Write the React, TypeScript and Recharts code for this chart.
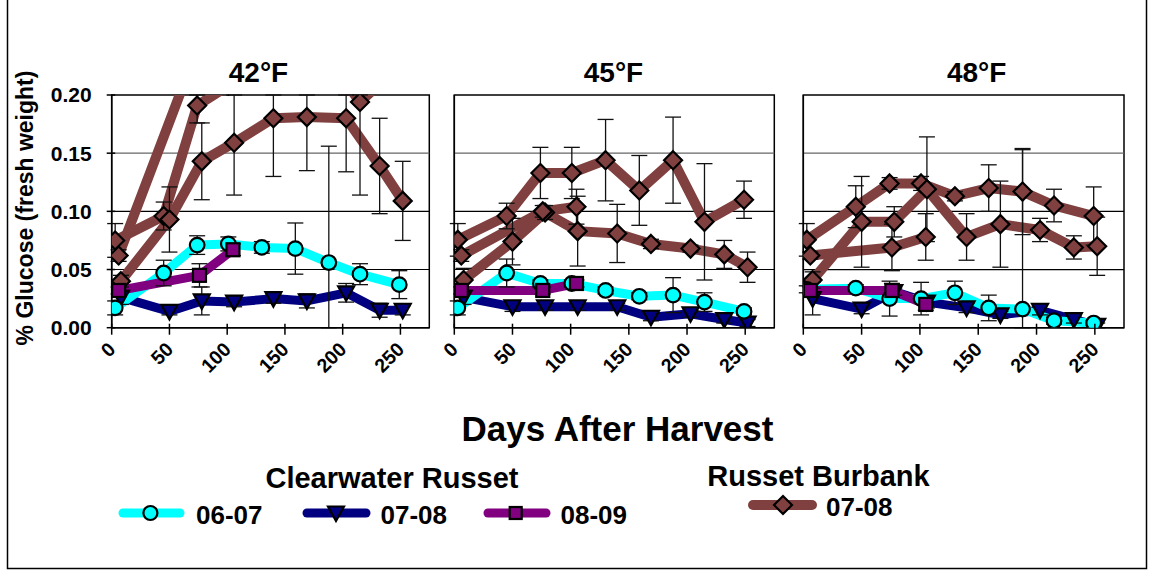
import {
  LineChart,
  Line,
  XAxis,
  YAxis,
  ErrorBar,
  ReferenceLine,
  ReferenceArea,
} from "recharts";

const FONT = "'Liberation Sans', Arial, Helvetica, sans-serif";

// sampling days for each storage season
const days0607 = [3, 45, 74, 101, 130, 159, 188, 215, 249];
const days0708 = [8, 50, 78, 106, 140, 169, 203, 232, 252];
const days0809 = [6, 76, 105];

const xTicks = [0, 50, 100, 150, 200, 250];
const yTicks = [0, 0.05, 0.1, 0.15, 0.2];

// 42°F
const cw0607_42 = [0.017, 0.047, 0.071, 0.072, 0.069, 0.068, 0.056, 0.046, 0.037];
const cw0607_42_err = [0.006, 0.011, 0.008, 0.006, 0.005, 0.022, 0.1, 0.009, 0.012];
const cw0708_42 = [0.026, 0.014, 0.023, 0.022, 0.025, 0.023, 0.03, 0.015, 0.015];
const cw0708_42_err = [0.006, 0.003, 0.012, 0.004, 0.004, 0.006, 0.008, 0.006, 0.004];
const cw0809_42 = [0.032, 0.045, 0.067];
const cw0809_42_err = [0.003, 0.01, 0.005];
const rbA_42 = [0.075, 0.096, 0.191, 0.208, 0.24, 0.25, 0.23, 0.194, 0.225];
const rbA_42_err = [0.0145, 0.012, 0.015, 0, 0, 0, 0, 0.08, 0.028];
const rbB_42 = [0.04, 0.093, 0.143, 0.159, 0.18, 0.181, 0.18, 0.139, 0.109];
const rbB_42_err = [0.005, 0.028, 0.033, 0.045, 0.05, 0.046, 0.046, 0.041, 0.034];
const rbC_42 = [0.062, 0.245, 0.27];
const rbC_42_err = [0.005, 0, 0];

// 45°F
const cw0607_45 = [0.017, 0.047, 0.038, 0.038, 0.032, 0.027, 0.028, 0.022, 0.014];
const cw0607_45_err = [0.006, 0.012, 0.003, 0.003, 0.003, 0.003, 0.015, 0.008, 0.003];
const cw0708_45 = [0.026, 0.018, 0.018, 0.018, 0.018, 0.009, 0.012, 0.007, 0.004];
const cw0708_45_err = [0.006, 0.004, 0.003, 0.003, 0.003, 0.003, 0.003, 0.003, 0.003];
const cw0809_45 = [0.032, 0.032, 0.038];
const cw0809_45_err = [0.003, 0.003, 0.003];
const rbA_45 = [0.0755, 0.096, 0.133, 0.133, 0.144, 0.118, 0.144, 0.091, 0.11];
const rbA_45_err = [0.014, 0.011, 0.022, 0.022, 0.035, 0.03, 0.037, 0.05, 0.016];
const rbB_45 = [0.041, 0.074, 0.099, 0.083, 0.081, 0.072, 0.068, 0.063, 0.052];
const rbB_45_err = [0.01, 0.02, 0.006, 0.03, 0.025, 0.004, 0.003, 0.012, 0.013];
const rbC_45 = [0.062, 0.1, 0.104];
const rbC_45_err = [0.005, 0.005, 0.015];

// 48°F
const cw0607_48 = [0.033, 0.034, 0.025, 0.025, 0.03, 0.017, 0.016, 0.006, 0.004];
const cw0607_48_err = [0.003, 0.003, 0.015, 0.014, 0.01, 0.011, 0.137, 0.003, 0.002];
const cw0708_48 = [0.025, 0.016, 0.031, 0.022, 0.017, 0.011, 0.015, 0.007, 0.002];
const cw0708_48_err = [0.014, 0.004, 0.003, 0.005, 0.004, 0.003, 0.004, 0.003, 0.002];
const cw0809_48 = [0.032, 0.032, 0.02];
const cw0809_48_err = [0.003, 0.006, 0.005];
const rbA_48 = [0.0755, 0.104, 0.124, 0.124, 0.113, 0.12, 0.117, 0.105, 0.096];
const rbA_48_err = [0.014, 0.018, 0.005, 0.006, 0.004, 0.02, 0.037, 0.014, 0.025];
const rbB_48 = [0.041, 0.091, 0.091, 0.119, 0.078, 0.089, 0.084, 0.069, 0.07];
const rbB_48_err = [0.007, 0.039, 0.013, 0.045, 0.02, 0.037, 0.01, 0.01, 0.025];
const rbC_48 = [0.062, 0.069, 0.078];
const rbC_48_err = [0.003, 0.02, 0.02];

const CYAN = "#00FFFF";
const NAVY = "#000080";
const PURPLE = "#800080";
const BROWN = "#804040";

// error bars are cut at the plot frame like the original
const mk = (days: number[], vals: number[], errs: number[]) =>
  days.map((d, i) => {
    const v = vals[i];
    const e = errs[i];
    let err: any = 0;
    if (e > 0 && v <= 0.2) err = [Math.min(e, v), Math.min(e, 0.2 - v)];
    return { day: d, v, e: err };
  });

const CircleDot = (p: any) =>
  p.cx == null || p.cy == null ? null : (
    <circle key={p.key} cx={p.cx} cy={p.cy} r={7.3} fill={CYAN} stroke="#000" strokeWidth={2.2} />
  );

const TriDot = (p: any) =>
  p.cx == null || p.cy == null ? null : (
    <polygon
      key={p.key}
      points={`${p.cx - 8},${p.cy - 6.5} ${p.cx + 8},${p.cy - 6.5} ${p.cx},${p.cy + 8}`}
      fill={NAVY}
      stroke="#000"
      strokeWidth={2.2}
    />
  );

const SquareDot = (p: any) =>
  p.cx == null || p.cy == null ? null : (
    <rect key={p.key} x={p.cx - 6.5} y={p.cy - 6.5} width={13} height={13} fill={PURPLE} stroke="#000" strokeWidth={2.2} />
  );

const DiamondDot = (p: any) =>
  p.cx == null || p.cy == null ? null : (
    <polygon
      key={p.key}
      points={`${p.cx},${p.cy - 9} ${p.cx + 9},${p.cy} ${p.cx},${p.cy + 9} ${p.cx - 9},${p.cy}`}
      fill={BROWN}
      stroke="#000"
      strokeWidth={2.2}
    />
  );

const XTick = (props: any) => {
  const { x, y, payload } = props;
  const tx = x + 5;
  const ty = y + 23;
  return (
    <g>
      <line x1={x} x2={x} y1={y - 4} y2={y + 7} stroke="#000" strokeWidth={1.5} />
      <text
        x={tx}
        y={ty}
        transform={`rotate(-45 ${tx} ${ty})`}
        textAnchor="end"
        fontFamily={FONT}
        fontWeight="bold"
        fontSize={19.5}
        fill="#000"
      >
        {payload.value}
      </text>
    </g>
  );
};

const YTick = (props: any) => {
  const { x, y, payload } = props;
  return (
    <g>
      <line x1={x - 5} x2={x + 3.5} y1={y} y2={y} stroke="#000" strokeWidth={1.5} />
      <text
        x={x - 20}
        y={y + 7.5}
        textAnchor="end"
        fontFamily={FONT}
        fontWeight="bold"
        fontSize={21}
        fill="#000"
      >
        {payload.value.toFixed(2)}
      </text>
    </g>
  );
};

type Series = { data: any[]; color: string; width: number; dot: any };

function Panel({
  left,
  yw,
  width,
  showY,
  series,
}: {
  left: number;
  yw: number;
  width: number;
  showY: boolean;
  series: Series[];
}) {
  return (
    <div style={{ position: "absolute", left, top: 60 }}>
      <LineChart
        width={width}
        height={330}
        margin={{ top: 35, right: 10, bottom: 22.3, left: 0 }}
      >
        <XAxis
          type="number"
          dataKey="day"
          domain={[0, 275]}
          ticks={xTicks}
          allowDataOverflow
          height={40}
          tickSize={0}
          tickMargin={0}
          tickLine={false}
          axisLine={{ stroke: "#000", strokeWidth: 1.5 }}
          tick={<XTick />}
          interval={0}
        />
        <YAxis
          type="number"
          domain={[0, 0.2]}
          ticks={yTicks}
          allowDataOverflow
          width={yw}
          tickSize={0}
          tickMargin={0}
          tickLine={false}
          axisLine={{ stroke: "#000", strokeWidth: 1.5 }}
          tick={showY ? <YTick /> : false}
          interval={0}
        />
        <ReferenceLine y={0.05} stroke="#000" strokeWidth={1.2} />
        <ReferenceLine y={0.1} stroke="#000" strokeWidth={1.2} />
        <ReferenceLine y={0.15} stroke="#666" strokeWidth={1.2} />
        <ReferenceArea
          x1={0}
          x2={275}
          y1={0}
          y2={0.2}
          fill="none"
          stroke="#000"
          strokeWidth={1.5}
        />
        {series.map((s, i) => (
          <Line
            key={"l" + i}
            data={s.data}
            dataKey="v"
            type="linear"
            stroke={s.color}
            strokeWidth={s.width}
            strokeLinejoin="round"
            strokeLinecap="round"
            dot={false}
            activeDot={false}
            isAnimationActive={false}
          />
        ))}
        {series.map((s, i) => (
          <Line
            key={"m" + i}
            data={s.data}
            dataKey="v"
            type="linear"
            stroke="none"
            dot={s.dot}
            activeDot={false}
            isAnimationActive={false}
          >
            <ErrorBar dataKey="e" direction="y" width={8} strokeWidth={1.3} stroke="#111" />
          </Line>
        ))}
      </LineChart>
    </div>
  );
}

const panelSeries = (
  a: number[], ae: number[],
  b: number[], be: number[],
  c: number[], ce: number[],
  cy: number[], cye: number[],
  nv: number[], nve: number[],
  pp: number[], ppe: number[],
): Series[] => [
  { data: mk(days0607, a, ae), color: BROWN, width: 10, dot: DiamondDot },
  { data: mk(days0708, b, be), color: BROWN, width: 10, dot: DiamondDot },
  { data: mk(days0809, c, ce), color: BROWN, width: 10, dot: DiamondDot },
  { data: mk(days0708, nv, nve), color: NAVY, width: 9, dot: TriDot },
  { data: mk(days0607, cy, cye), color: CYAN, width: 9, dot: CircleDot },
  { data: mk(days0809, pp, ppe), color: PURPLE, width: 9, dot: SquareDot },
];

const series42 = panelSeries(rbA_42, rbA_42_err, rbB_42, rbB_42_err, rbC_42, rbC_42_err, cw0607_42, cw0607_42_err, cw0708_42, cw0708_42_err, cw0809_42, cw0809_42_err);
const series45 = panelSeries(rbA_45, rbA_45_err, rbB_45, rbB_45_err, rbC_45, rbC_45_err, cw0607_45, cw0607_45_err, cw0708_45, cw0708_45_err, cw0809_45, cw0809_45_err);
const series48 = panelSeries(rbA_48, rbA_48_err, rbB_48, rbB_48_err, rbC_48, rbC_48_err, cw0607_48, cw0607_48_err, cw0708_48, cw0708_48_err, cw0809_48, cw0809_48_err);

const bold = { fontFamily: FONT, fontWeight: "bold" as const, fill: "#000" };

export default function App() {
  return (
    <div
      style={{
        position: "fixed",
        left: 0,
        top: 0,
        width: 1152,
        height: 571,
        background: "#fff",
        overflow: "hidden",
      }}
    >
      <Panel left={0} yw={111.7} width={439.3} showY series={series42} />
      <Panel left={430} yw={24.3} width={354.3} showY={false} series={series45} />
      <Panel left={780} yw={23.3} width={354} showY={false} series={series48} />

      <svg
        width={1152}
        height={571}
        style={{ position: "absolute", left: 0, top: 0, pointerEvents: "none" }}
      >
        <rect x={7.5} y={-5} width={1139} height={573.5} fill="none" stroke="#000" strokeWidth={1.5} />

        <text x={258.5} y={82} textAnchor="middle" fontSize={28} {...bold}>42°F</text>
        <text x={613.5} y={82} textAnchor="middle" fontSize={28} {...bold}>45°F</text>
        <text x={976.7} y={82} textAnchor="middle" fontSize={28} {...bold}>48°F</text>

        <text
          x={33}
          y={208}
          transform="rotate(-90 33 208)"
          textAnchor="middle"
          fontSize={23}
          {...bold}
        >
          % Glucose (fresh weight)
        </text>

        <text x={617.5} y={441} textAnchor="middle" fontSize={35} {...bold}>
          Days After Harvest
        </text>

        <text x={392} y={488} textAnchor="middle" fontSize={29} {...bold}>
          Clearwater Russet
        </text>
        <text x={818.5} y={486} textAnchor="middle" fontSize={29} {...bold}>
          Russet Burbank
        </text>

        {/* legend swatches */}
        <line x1={123} x2={180} y1={513} y2={513} stroke={CYAN} strokeWidth={9} strokeLinecap="round" />
        <circle cx={150.4} cy={513} r={7} fill={CYAN} stroke="#000" strokeWidth={2.2} />
        <text x={196} y={524} fontSize={26} {...bold}>06-07</text>

        <line x1={307} x2={366} y1={513} y2={513} stroke={NAVY} strokeWidth={9} strokeLinecap="round" />
        <polygon points="328,506.5 344,506.5 336,521" fill={NAVY} stroke="#000" strokeWidth={2.2} />
        <text x={380.5} y={524} fontSize={26} {...bold}>07-08</text>

        <line x1={488} x2={546} y1={513} y2={513} stroke={PURPLE} strokeWidth={9} strokeLinecap="round" />
        <rect x={509.7} y={507} width={12} height={12} fill={PURPLE} stroke="#000" strokeWidth={2.2} />
        <text x={560.5} y={524} fontSize={26} {...bold}>08-09</text>

        <line x1={753} x2={812} y1={505} y2={505} stroke={BROWN} strokeWidth={10} strokeLinecap="round" />
        <polygon points="783,496 792,505 783,514 774,505" fill={BROWN} stroke="#000" strokeWidth={2.2} />
        <text x={826} y={516} fontSize={26} {...bold}>07-08</text>
      </svg>
    </div>
  );
}
